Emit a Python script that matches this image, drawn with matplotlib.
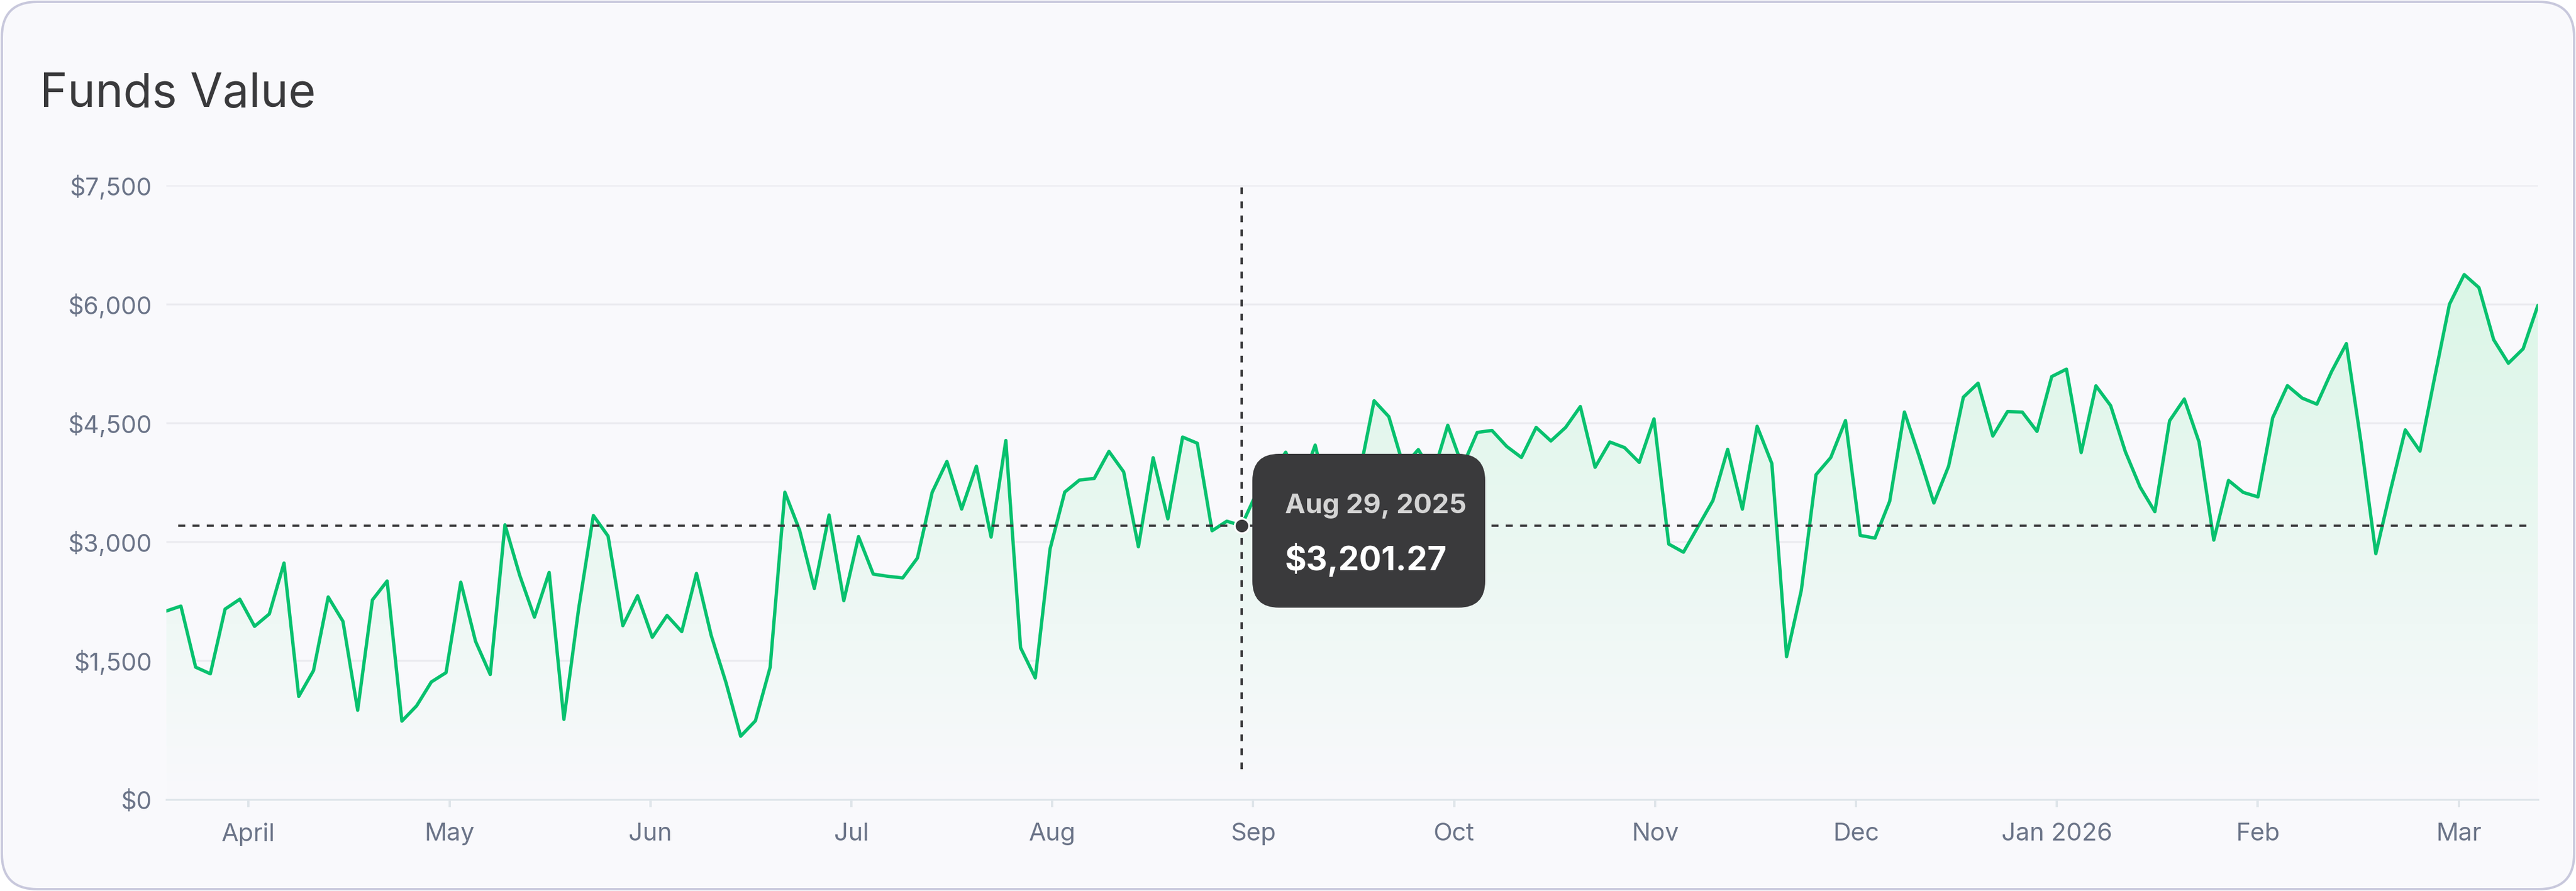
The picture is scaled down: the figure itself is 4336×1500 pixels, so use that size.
import matplotlib
matplotlib.use("Agg")
import matplotlib.pyplot as plt
from matplotlib.patches import FancyBboxPatch
from matplotlib.colors import to_rgb
import numpy as np

plt.rcParams['font.family'] = ['Inter', 'DejaVu Sans']
plt.rcParams['lines.scale_dashes'] = False

# ---------------- data ----------------
values = [
    2122, 2185, 1413, 1329, 2147, 2272, 1929, 2085, 2729, 1043,
    1369, 2300, 1992, 868, 2262, 2502, 731, 924, 1226, 1344,
    2487, 1740, 1320, 3212, 2574, 2045, 2611, 753, 2150, 3330,
    3069, 1937, 2316, 1790, 2066, 1862, 2598, 1813, 1220, 540,
    735, 1411, 3624, 3144, 2408, 3336, 2253, 3063, 2589, 2561,
    2541, 2793, 3623, 4013, 3411, 3953, 3057, 4278, 1659, 1277,
    2905, 3626, 3778, 3798, 4140, 3881, 2934, 4060, 3287, 4321,
    4243, 3137, 3258, 3201.27, 3606, 3850, 4130, 3700, 4220, 3450,
    3550, 3850, 4780, 4579, 3950, 4163, 3850, 4470, 3950, 4380,
    4405, 4203, 4063, 4443, 4272, 4443, 4707, 3939, 4259, 4188,
    4001, 4551, 2969, 2866, 3193, 3519, 4166, 3410, 4458, 3986,
    1545, 2384, 3846, 4063, 4530, 3078, 3044, 3510, 4638, 4080,
    3488, 3954, 4825, 5002, 4334, 4644, 4637, 4393, 5086, 5180,
    4125, 4969, 4718, 4135, 3689, 3378, 4527, 4802, 4259, 3019,
    3773, 3622, 3565, 4565, 4971, 4814, 4737, 5150, 5502, 4250,
    2847, 3650, 4412, 4144, 5080, 6000, 6375, 6210, 5552, 5254,
    5437, 5985,
]
month_labels = ["April", "May", "Jun", "Jul", "Aug", "Sep", "Oct", "Nov",
                "Dec", "Jan 2026", "Feb", "Mar"]
month_positions = [5.59, 19.23, 32.87, 46.51, 60.15, 73.79, 87.43, 101.07,
                   114.71, 128.35, 141.99, 155.63]
grid_values = [1500, 3000, 4500, 6000, 7500]
y_labels = ["$0", "$1,500", "$3,000", "$4,500", "$6,000", "$7,500"]
hover_index = 73
hover_date = "Aug 29, 2025"
title = "Funds Value"

# ---------------- figure ----------------
W, H = 4336, 1500
PX = 72 / 100.0
fig = plt.figure(figsize=(W / 100, H / 100), dpi=100)
fig.patch.set_facecolor('white')

bg = fig.add_axes([0, 0, 1, 1], zorder=0)
bg.set_xlim(0, W)
bg.set_ylim(H, 0)
bg.axis('off')
bg.add_patch(FancyBboxPatch((3, 3), W - 6, H - 6,
                            boxstyle='round,pad=0,rounding_size=60',
                            fc='#f9f9fc', ec='#c8c8dc', lw=4 * PX))
bg.text(67, 180, title, fontsize=57, color='#3a3a3c', va='baseline', ha='left')

YBOT, YTOP = -260, 7500
left_px, right_px, top_px, bot_px = 279.7, 4271.8, 312.4, 1346
ax = fig.add_axes([left_px / W, 1 - bot_px / H, (right_px - left_px) / W,
                   (bot_px - top_px) / H], zorder=1)
ax.set_facecolor('none')

x = np.arange(len(values))
v = np.array(values, dtype=float)

for gv in grid_values:
    ax.axhline(gv, color='#ebebf0', lw=3.2 * PX, zorder=0.5)

# gradient fill
top_c = np.array(to_rgb('#dbf6e7'))
bot_c = np.array(to_rgb('#f9f9fc'))
t = np.linspace(0, 1, 256)[:, None, None]
img = bot_c[None, None, :] + (top_c - bot_c)[None, None, :] * t
im = ax.imshow(img, extent=[x[0], x[-1], YBOT, v.max()], origin='lower',
               aspect='auto', zorder=1, interpolation='bilinear')
poly = ax.fill_between(x, v, YBOT, facecolor='none', edgecolor='none')
im.set_clip_path(poly.get_paths()[0], transform=ax.transData)

ax.plot(x, v, color='#07c16e', lw=5.6 * PX, solid_joinstyle='round',
        solid_capstyle='round', zorder=3)

# crosshair
hx, hv = x[hover_index], v[hover_index]
ax.plot([hx, hx], [120, YTOP], color='#3a3a3c', lw=4 * PX,
        dashes=(8.2, 8.8), zorder=4, clip_on=False)
ax.plot([0.8, 160.3], [hv, hv], color='#3a3a3c', lw=3.7 * PX,
        dashes=(8.5, 8.8), zorder=4, clip_on=False)
ax.plot([hx], [hv], 'o', ms=17.5, mfc='#3a3a3c', mec='white', mew=2.2,
        zorder=5, clip_on=False)

ax.set_xlim(x[0], x[-1])
ax.set_ylim(YBOT, YTOP)
ax.set_xticks(month_positions)
ax.set_xticklabels(month_labels)
ax.set_yticks([YBOT] + grid_values)
ax.set_yticklabels(y_labels)
for s in ['top', 'left', 'right']:
    ax.spines[s].set_visible(False)
ax.spines['bottom'].set_color('#dfe5ea')
ax.spines['bottom'].set_linewidth(3.3 * PX)
ax.tick_params(axis='x', length=13 * PX, width=4 * PX, color='#dfe5ea',
               pad=19, labelsize=30, labelcolor='#6b7488')
ax.tick_params(axis='y', length=0, pad=17, labelsize=29.5, labelcolor='#6b7488')

# tooltip
fg = fig.add_axes([0, 0, 1, 1], zorder=2)
fg.set_xlim(0, W)
fg.set_ylim(H, 0)
fg.axis('off')
fg.add_patch(FancyBboxPatch((2108, 764), 392, 259,
                            boxstyle='round,pad=0,rounding_size=45',
                            fc='#3a3a3c', ec='none'))
fg.text(2163, 864, hover_date, fontsize=33, fontweight='bold',
        color='#d4d4d4', va='baseline', ha='left')
fg.text(2163, 960, f"${values[hover_index]:,.2f}", fontsize=40,
        fontweight='bold', color='white', va='baseline', ha='left')

fig.savefig('out.png', dpi=100, facecolor='white')
